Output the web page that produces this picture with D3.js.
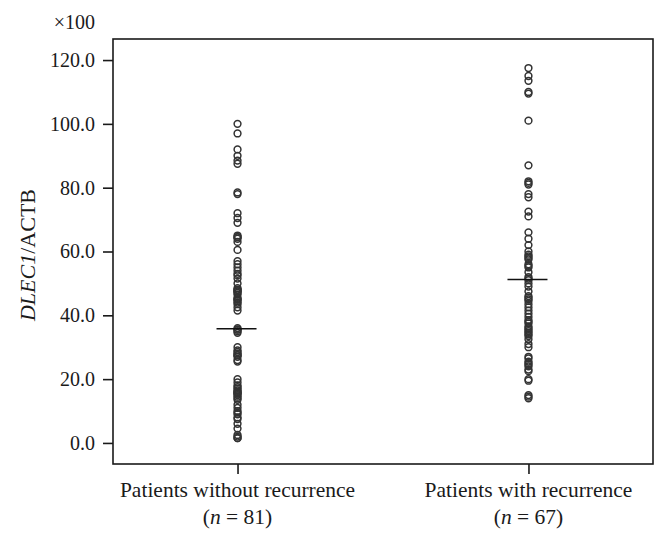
<!DOCTYPE html>
<html>
<head>
<meta charset="utf-8">
<script src="https://cdn.jsdelivr.net/npm/d3@7"></script>
<style>
  html, body { margin: 0; padding: 0; background: #fff; }
  svg { display: block; }
  text { font-family: "Liberation Serif", "DejaVu Serif", serif; fill: #1a1a1a; }
</style>
</head>
<body>
<svg id="chart" width="668" height="538"></svg>
<script>
// ---- data ----
const categories = ["Patients without recurrence", "Patients with recurrence"];
const groupN = [81, 67];
const withoutRecurrence = [
  100, 97, 92, 90, 88.5, 87.5, 78.5, 78, 72, 70.5, 69, 65, 64.5, 64, 63, 60.5,
  57, 56, 55, 54, 53, 52.5, 51.5, 50, 48.5, 48, 47.5, 47, 46.5, 45.5, 45, 44.5,
  43.5, 42.5, 41.5, 36, 35.5, 35, 34.5, 30, 29, 28.5, 28, 27.5, 27, 26, 25.5,
  20, 19, 18, 17.5, 17, 16.5, 16, 15.5, 15, 14.5, 14, 13.5, 12, 11, 10, 9, 8,
  7.5, 6, 4.5, 2.5, 1.5,
  64.5, 48, 47.5, 45, 44, 35.5, 27.5, 16, 15.5, 2, 1.5, 9.5
];
const withRecurrence = [
  117.5, 115, 113.5, 110, 109.5, 101, 87, 82, 81, 78, 77, 72.5, 71, 66, 64, 62,
  60, 59, 58.5, 57.5, 56, 55, 53.5, 52, 51.5, 51, 50, 49, 47.5, 46, 45, 44.5,
  43.5, 42.5, 41.5, 40.5, 39.5, 38.5, 37.5, 36.5, 36, 35.5, 35, 34.5, 33.5, 32.5,
  31, 30, 27, 26.5, 25.5, 25, 24, 23, 22.5, 20, 19.5, 15, 14.5,
  81.5, 58, 55.5, 45.5, 38, 34, 24.5, 14
];
const groupMeans = [35.8, 51.2];
const yTicks = [0, 20, 40, 60, 80, 100, 120];
const yDomain = [-6.6, 126.6];

// ---- layout ----
const svg = d3.select("#chart");
const frame = { left: 113, right: 653, top: 39, bottom: 464 };
const serif = "Liberation Serif, serif";

const x = d3.scalePoint()
  .domain(categories)
  .range([frame.left, frame.right])
  .padding(0.428);

const y = d3.scaleLinear()
  .domain(yDomain)
  .range([frame.bottom, frame.top]);

const groups = [withoutRecurrence, withRecurrence];

// frame
svg.append("rect")
  .attr("x", frame.left).attr("y", frame.top)
  .attr("width", frame.right - frame.left)
  .attr("height", frame.bottom - frame.top)
  .attr("fill", "none").attr("stroke", "#1a1a1a").attr("stroke-width", 1.6);

// y axis
const yAxis = d3.axisLeft(y)
  .tickValues(yTicks)
  .tickSize(10)
  .tickPadding(8)
  .tickFormat(d3.format(".1f"));
const gy = svg.append("g").attr("transform", `translate(${frame.left},0)`).call(yAxis);
gy.select(".domain").remove();
gy.selectAll(".tick line").attr("stroke", "#1a1a1a").attr("stroke-width", 1.6);
gy.selectAll(".tick text").style("font-size", "20px").style("font-family", serif).attr("fill", "#1a1a1a");

// x axis
const xAxis = d3.axisBottom(x).tickSize(10).tickFormat("");
const gx = svg.append("g").attr("transform", `translate(0,${frame.bottom})`).call(xAxis);
gx.select(".domain").remove();
gx.selectAll(".tick line").attr("stroke", "#1a1a1a").attr("stroke-width", 1.6);

// x labels (two lines)
categories.forEach((c, i) => {
  svg.append("text")
    .attr("x", x(c)).attr("y", 497)
    .attr("text-anchor", "middle")
    .style("font-size", "21.5px").style("font-family", serif)
    .text(c);
  const t = svg.append("text")
    .attr("x", x(c)).attr("y", 524)
    .attr("text-anchor", "middle")
    .style("font-size", "21.5px").style("font-family", serif);
  t.append("tspan").text("(");
  t.append("tspan").style("font-style", "italic").text("n");
  t.append("tspan").text(" = " + groupN[i] + ")");
});

// ×100
svg.append("text")
  .attr("x", 95).attr("y", 29)
  .attr("text-anchor", "end")
  .style("font-size", "20px").style("font-family", serif)
  .text("×100");

// y title
const yt = svg.append("text")
  .attr("transform", `translate(35,255) rotate(-90)`)
  .attr("text-anchor", "middle")
  .style("font-size", "22px").style("font-family", serif);
yt.append("tspan").style("font-style", "italic").text("DLEC1");
yt.append("tspan").text("/ACTB");

// points
groups.forEach((vals, i) => {
  svg.append("g").selectAll("circle")
    .data(vals)
    .join("circle")
    .attr("cx", x(categories[i]))
    .attr("cy", d => y(d))
    .attr("r", 3.4)
    .attr("fill", "none")
    .attr("stroke", "#333")
    .attr("stroke-width", 1.5);
});

// mean lines
groupMeans.forEach((m, i) => {
  const cx = x(categories[i]);
  svg.append("line")
    .attr("x1", cx - 21).attr("x2", cx + 19)
    .attr("y1", y(m)).attr("y2", y(m))
    .attr("stroke", "#111").attr("stroke-width", 1.5);
});
</script>
</body>
</html>
